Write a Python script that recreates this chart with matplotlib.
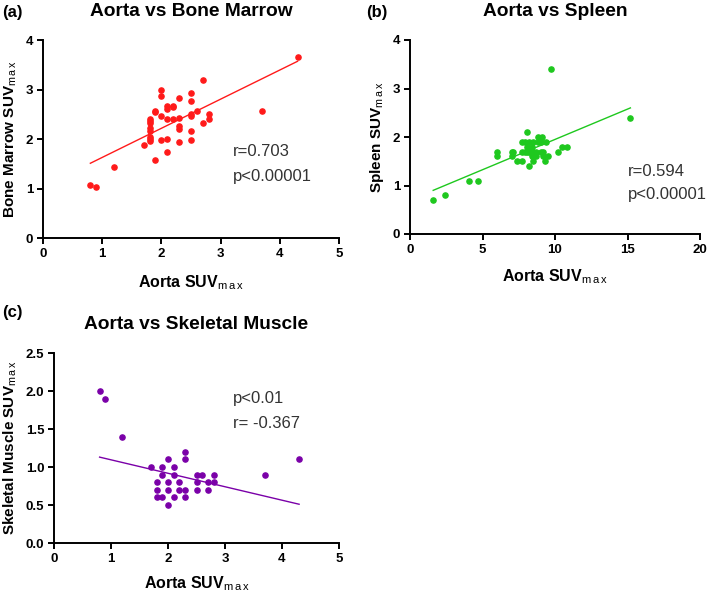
import numpy as np
import matplotlib
matplotlib.use("Agg")
import matplotlib.pyplot as plt

plt.rcParams["font.family"] = ["Liberation Sans", "DejaVu Sans"]
plt.rcParams["mathtext.fontset"] = "custom"
plt.rcParams["mathtext.rm"] = "Liberation Sans"

# (a) Aorta vs Bone Marrow
aorta_a = [0.8, 0.9, 1.2, 1.7, 1.8, 1.8, 1.8, 1.8, 1.8, 1.8, 1.8, 1.8,
           1.9, 1.9, 1.9, 2.0, 2.0, 2.0, 2.0, 2.1, 2.1, 2.1, 2.1, 2.1,
           2.2, 2.2, 2.2, 2.3, 2.3, 2.3, 2.3, 2.3, 2.5, 2.5, 2.5, 2.5,
           2.5, 2.5, 2.6, 2.7, 2.7, 2.8, 2.8, 3.7, 4.3]
marrow_a = [1.07, 1.04, 1.44, 1.87, 2.41, 2.37, 2.32, 2.22, 2.16, 2.04, 2.0, 1.96,
            2.57, 2.54, 1.57, 2.98, 2.86, 2.47, 1.98, 2.67, 2.6, 2.4, 2.0, 1.73,
            2.67, 2.64, 2.4, 2.83, 2.43, 2.27, 2.2, 1.94, 2.93, 2.77, 2.5, 2.47,
            2.17, 1.98, 2.57, 3.19, 2.33, 2.5, 2.4, 2.57, 3.66]
fit_a_x = [0.8, 4.3]
fit_a_y = [1.51, 3.57]

# (b) Aorta vs Spleen
aorta_b = [1.6, 2.4, 4.1, 4.7, 6.0, 6.0, 7.0, 7.1, 7.0, 7.4, 7.7, 8.5, 9.3,
           8.1, 7.7, 7.9, 8.2, 8.5, 8.8, 9.0, 9.4, 8.8, 9.1, 8.05, 8.4,
           7.7, 7.9, 8.05, 8.2, 8.5, 8.7, 9.0, 9.2, 8.4, 8.5, 8.7, 9.2, 9.5,
           8.2, 10.2, 10.5, 10.8, 9.7, 15.2]
spleen_b = [0.7, 0.8, 1.1, 1.1, 1.7, 1.6, 1.7, 1.7, 1.6, 1.5, 1.5, 1.5, 1.5,
            2.1, 1.9, 1.9, 1.9, 1.9, 1.9, 1.9, 1.9, 2.0, 2.0, 1.8, 1.8,
            1.7, 1.7, 1.7, 1.7, 1.7, 1.7, 1.7, 1.7, 1.6, 1.6, 1.6, 1.6, 1.6,
            1.4, 1.7, 1.8, 1.8, 3.4, 2.4]
fit_b_x = [1.6, 15.2]
fit_b_y = [0.9, 2.6]

# (c) Aorta vs Skeletal Muscle
aorta_c = [0.8, 0.9, 1.2, 1.7, 1.9, 1.9, 2.0, 2.1, 2.1, 2.3, 2.3,
           1.8, 1.8, 1.8, 1.9, 2.0, 2.0, 2.0, 2.1, 2.2, 2.2, 2.3, 2.3,
           2.5, 2.6, 2.5, 2.5, 2.7, 2.7, 2.8, 2.8, 3.7, 4.3]
muscle_c = [2.0, 1.9, 1.4, 1.0, 1.0, 0.9, 1.1, 1.0, 0.9, 1.2, 1.1,
            0.8, 0.7, 0.6, 0.6, 0.8, 0.7, 0.5, 0.6, 0.8, 0.7, 0.7, 0.6,
            0.9, 0.9, 0.8, 0.7, 0.8, 0.7, 0.9, 0.8, 0.9, 1.1]
fit_c_x = [0.8, 4.3]
fit_c_y = [1.13, 0.51]

SUB = r"SUV$_{\mathrm{m\,a\,x}}$"
W, H = 709, 594

fig = plt.figure(figsize=(W / 100, H / 100), dpi=100)


def make_ax(l, r, t, b):
    return fig.add_axes([l / W, 1 - b / H, (r - l) / W, (b - t) / H])


def style(ax, xlim, ylim, xticks, yticks, yfmt=None):
    ax.set_xlim(*xlim)
    ax.set_ylim(*ylim)
    ax.set_xticks(xticks)
    ax.set_yticks(yticks)
    if yfmt:
        ax.set_yticklabels([yfmt.format(v) for v in yticks])
    for s in ["top", "right"]:
        ax.spines[s].set_visible(False)
    for s in ["left", "bottom"]:
        ax.spines[s].set_linewidth(1.4)
    ax.tick_params(width=1.4, length=4, labelsize=9.5, pad=3, direction="out")
    for lab in ax.get_xticklabels() + ax.get_yticklabels():
        lab.set_fontweight("bold")


panels = [
    (make_ax(43, 339, 40, 238), aorta_a, marrow_a, fit_a_x, fit_a_y, "#ff1a1a",
     "Aorta vs Bone Marrow", "Bone Marrow " + SUB, 10,
     (0, 5), (0, 4), range(6), range(5), None,
     [(3.2, 1.74, "r=0.703"), (3.2, 1.24, "p<0.00001")]),
    (make_ax(410, 700, 40, 234), aorta_b, spleen_b, fit_b_x, fit_b_y, "#1ec81e",
     "Aorta vs Spleen", "Spleen " + SUB, 8,
     (0, 20), (0, 4), [0, 5, 10, 15, 20], range(5), None,
     [(15.0, 1.29, "r=0.594"), (15.0, 0.82, "p<0.00001")]),
    (make_ax(54, 339, 353, 543), aorta_c, muscle_c, fit_c_x, fit_c_y, "#7a00a8",
     "Aorta vs Skeletal Muscle", "Skeletal Muscle " + SUB, 7,
     (0, 5), (0, 2.5), range(6), [0, 0.5, 1.0, 1.5, 2.0, 2.5], "{:.1f}",
     [(3.14, 1.9, "p<0.01"), (3.14, 1.57, "r= -0.367")]),
]

for (ax, x, y, fx, fy, col, title, ylab, xpad, xlim, ylim, xt, yt, yfmt, notes) in panels:
    ax.plot(fx, fy, color=col, lw=1.0)
    ax.scatter(x, y, s=14, color=col, zorder=3, clip_on=False)
    style(ax, xlim, ylim, xt, yt, yfmt)
    ax.set_title(title, fontsize=13.8, fontweight="bold", pad=17)
    ax.set_xlabel("Aorta " + SUB, fontsize=11.5, fontweight="bold", labelpad=xpad)
    ax.set_ylabel(ylab, fontsize=11, fontweight="bold", labelpad=5)
    for nx, ny, txt in notes:
        ax.text(nx, ny, txt, fontsize=12, color="#333333", va="center")

fig.text(2 / W, 1 - 12 / H, "(a)", fontsize=12, fontweight="bold", va="center")
fig.text(366 / W, 1 - 12 / H, "(b)", fontsize=12, fontweight="bold", va="center")
fig.text(2 / W, 1 - 313 / H, "(c)", fontsize=12, fontweight="bold", va="center")

fig.savefig("out.png", dpi=100)
